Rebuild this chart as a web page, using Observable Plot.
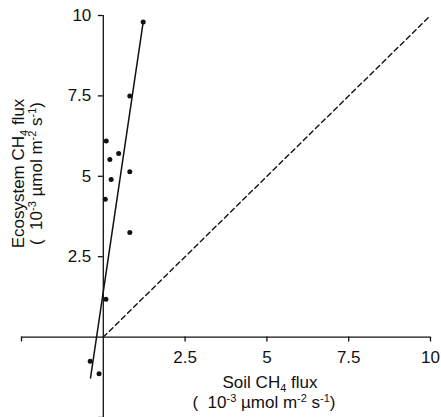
<!DOCTYPE html>
<html>
<head>
<meta charset="utf-8">
<script src="https://cdn.jsdelivr.net/npm/d3@7"></script>
<script src="https://cdn.jsdelivr.net/npm/@observablehq/plot@0.6"></script>
<style>
  html, body { margin: 0; padding: 0; background: #ffffff; }
  #chart svg { display: block; }
</style>
</head>
<body>
<div id="chart"></div>
<script>
// ---- data ----
const soilFlux = [1.22, 0.81, 0.09, 0.20, 0.47, 0.81, 0.24, 0.06, 0.81, 0.08, -0.40, -0.13];
const ecoFlux  = [9.80, 7.50, 6.10, 5.52, 5.71, 5.14, 4.90, 4.29, 3.25, 1.18, -0.75, -1.14];

// fitted regression line (end points as drawn)
const fitSoil = [-0.39, 1.22];
const fitEco  = [-1.27, 9.80];

// 1:1 reference line
const oneSoil = [0, 10];
const oneEco  = [0, 10];

const xDomain = [-2.5, 10];
const yDomain = [-2.5, 10];
const xTicks = [-2.5, 2.5, 5, 7.5, 10];
const yTicks = [-2.5, 2.5, 5, 7.5, 10];
const xTickLabels = ["2.5", "5", "7.5", "10"];
const yTickLabels = ["2.5", "5", "7.5", "10"];

const xTitle = ["Soil CH₄ flux", "(  10⁻³ µmol m⁻² s⁻¹)"];
const yTitle = ["Ecosystem CH₄ flux", "(  10⁻³ µmol m⁻² s⁻¹)"];

// ---- build tables ----
const points = soilFlux.map((s, i) => ({soil: s, eco: ecoFlux[i]}));
const fitLine = fitSoil.map((s, i) => ({soil: s, eco: fitEco[i]}));
const oneLine = oneSoil.map((s, i) => ({soil: s, eco: oneEco[i]}));

const ink = "#111";
const tickLenY = 0.15;  // in data units of the y scale
const tickLenX = 0.15;

const chart = Plot.plot({
  width: 441,
  height: 417,
  marginLeft: 21,
  marginRight: 11,
  marginTop: 15,
  marginBottom: 0,
  x: {domain: xDomain, axis: null},
  y: {domain: yDomain, axis: null},
  style: {fontFamily: "'Liberation Sans', Arial, sans-serif", fontSize: "17px", color: ink, background: "#ffffff"},
  marks: [
    // axes through the origin
    Plot.ruleY([0], {x1: () => xDomain[0], x2: () => xDomain[1], stroke: ink, strokeWidth: 1.3}),
    Plot.ruleX([0], {y1: () => yDomain[0], y2: () => yDomain[1], stroke: ink, strokeWidth: 1.3}),
    // tick marks
    Plot.ruleX(xTicks, {x: d => d, y1: () => 0, y2: () => -tickLenY, stroke: ink, strokeWidth: 1.3}),
    Plot.ruleY(yTicks, {y: d => d, x1: () => 0, x2: () => -tickLenX, stroke: ink, strokeWidth: 1.3}),
    // tick labels
    Plot.text(xTickLabels, {x: d => +d, y: () => 0, text: d => d, dy: 20, lineAnchor: "middle", fill: ink}),
    Plot.text(yTickLabels, {x: () => 0, y: d => +d, text: d => d, dx: -12, textAnchor: "end", lineAnchor: "middle", fill: ink}),
    // 1:1 dashed line
    Plot.line(oneLine, {x: "soil", y: "eco", stroke: ink, strokeWidth: 1.4, strokeDasharray: "5,3.5"}),
    // regression line
    Plot.line(fitLine, {x: "soil", y: "eco", stroke: ink, strokeWidth: 1.5}),
    // observations
    Plot.dot(points, {x: "soil", y: "eco", r: 2.5, fill: ink}),
    // axis titles
    Plot.text([xTitle[0]], {text: d => d, frameAnchor: "bottom", textAnchor: "middle", dx: 44, dy: -30, lineAnchor: "bottom", fill: ink}),
    Plot.text([xTitle[1]], {text: d => d, frameAnchor: "bottom", textAnchor: "middle", dx: 38, dy: -10, lineAnchor: "bottom", fill: ink}),
    Plot.text([yTitle[0]], {text: d => d, frameAnchor: "left", textAnchor: "middle", rotate: -90, dx: -3, dy: -43, lineAnchor: "middle", fill: ink}),
    Plot.text([yTitle[1]], {text: d => d, frameAnchor: "left", textAnchor: "middle", rotate: -90, dx: 15, dy: -43, lineAnchor: "middle", fill: ink})
  ]
});

document.getElementById("chart").appendChild(chart);

// render Unicode sub/superscripts as smaller shifted tspans
const supMap = {"⁻": "-", "⁰": "0", "¹": "1", "²": "2", "³": "3", "⁴": "4", "⁵": "5", "⁶": "6", "⁷": "7", "⁸": "8", "⁹": "9"};
const subMap = {"₀": "0", "₁": "1", "₂": "2", "₃": "3", "₄": "4", "₅": "5", "₆": "6", "₇": "7", "₈": "8", "₉": "9"};
d3.select(chart).selectAll("text").each(function () {
  const el = this;
  const str = el.textContent;
  if (!/[⁻⁰¹²³⁴⁵⁶⁷⁸⁹₀-₉]/.test(str)) return;
  const runs = [];
  for (const ch of str) {
    const kind = supMap[ch] !== undefined ? "sup" : subMap[ch] !== undefined ? "sub" : "n";
    const c = kind === "sup" ? supMap[ch] : kind === "sub" ? subMap[ch] : ch;
    if (runs.length && runs[runs.length - 1].kind === kind) runs[runs.length - 1].t += c;
    else runs.push({kind, t: c});
  }
  while (el.firstChild) el.removeChild(el.firstChild);
  let shift = 0;
  for (const r of runs) {
    const ts = document.createElementNS("http://www.w3.org/2000/svg", "tspan");
    const target = r.kind === "sup" ? -5.5 : r.kind === "sub" ? 4 : 0;
    ts.setAttribute("dy", String(target - shift));
    shift = target;
    if (r.kind !== "n") ts.setAttribute("font-size", "11px");
    ts.textContent = r.t;
    el.appendChild(ts);
  }
});
</script>
</body>
</html>
